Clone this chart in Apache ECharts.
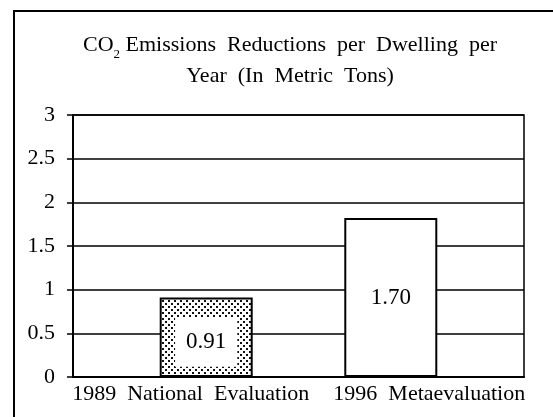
<!DOCTYPE html>
<html>
<head>
<meta charset="utf-8">
<script src="https://cdn.jsdelivr.net/npm/echarts@6/dist/echarts.min.js"></script>
<style>
  html, body { margin: 0; padding: 0; background: #fff; }
  #chart { width: 553px; height: 417px; }
</style>
</head>
<body>
<div id="chart"></div>
<script>
const categories = ['1989  National  Evaluation', '1996  Metaevaluation'];
const values = [0.91, 1.82];
const valueLabels = ['0.91', '1.70'];
const yTicks = [0, 0.5, 1, 1.5, 2, 2.5, 3];

const FONT = '"Liberation Serif", "DejaVu Serif", serif';

// dotted fill for the 1989 bar
function makePattern() {
    const c = document.createElement('canvas');
    c.width = 6; c.height = 6;
    const ctx = c.getContext('2d');
    ctx.fillStyle = '#fff';
    ctx.fillRect(0, 0, 6, 6);
    ctx.fillStyle = '#111';
    ctx.fillRect(0, 0, 2, 2);
    ctx.fillRect(3, 3, 2, 2);
    return c;
}

const chart = echarts.init(document.getElementById('chart'), null, { renderer: 'canvas' });

// one series per bar so the bars can sit off-centre like the original
const dataA = values.map((v, i) => (i === 1 ? v : '-'));
const dataB = values.map((v, i) => (i === 0 ? v : '-'));

chart.setOption({
    backgroundColor: '#fff',
    animation: false,
    title: {
        text: 'CO{sub|2} Emissions  Reductions  per  Dwelling  per\nYear  (In  Metric  Tons)',
        left: 285,
        top: 25,
        textAlign: 'center',
        textStyle: {
            fontFamily: FONT,
            fontWeight: 'normal',
            fontSize: 22,
            color: '#000',
            lineHeight: 31,
            rich: {
                sub: { fontFamily: FONT, fontSize: 13, verticalAlign: 'bottom', padding: [13, 0, 0, 0], lineHeight: 31 }
            }
        }
    },
    graphic: [{
        type: 'rect',
        shape: { x: 14, y: 11, width: 545, height: 430 },
        style: { fill: null, stroke: '#000', lineWidth: 2 },
        silent: true
    }],
    grid: {
        left: 73, right: 29, top: 115, bottom: 40,
        show: true, borderColor: '#000', borderWidth: 1.5
    },
    xAxis: {
        type: 'category',
        data: categories,
        axisTick: { show: false },
        axisLine: { lineStyle: { color: '#000', width: 2 } },
        axisLabel: {
            interval: 0,
            hideOverlap: false,
            color: '#000', fontFamily: FONT, fontSize: 22, margin: 6,
            formatter: (v, i) => (i === 0 ? '{a|' + v + '}' : '{b|' + v + '}'),
            rich: {
                a: { fontFamily: FONT, fontSize: 22, color: '#000', padding: [0, 0, 0, 10] },
                b: { fontFamily: FONT, fontSize: 22, color: '#000', padding: [0, 0, 0, 36] }
            }
        }
    },
    yAxis: {
        type: 'value',
        min: yTicks[0],
        max: yTicks[yTicks.length - 1],
        interval: 0.5,
        axisLine: { show: true, lineStyle: { color: '#000', width: 2 } },
        axisTick: { show: true, inside: false, length: 6, lineStyle: { color: '#000', width: 1.5 } },
        axisLabel: { color: '#000', fontFamily: FONT, fontSize: 22, margin: 18 },
        splitLine: { lineStyle: { color: '#000', width: 1.5 } }
    },
    series: [
        {
            type: 'bar',
            data: dataA,
            barWidth: 93,
            barGap: '-56%',
            itemStyle: { color: '#fff', borderColor: '#000', borderWidth: 2 },
            label: {
                show: true, position: 'inside',
                formatter: p => valueLabels[p.dataIndex],
                color: '#000', fontFamily: FONT, fontSize: 23
            }
        },
        {
            type: 'bar',
            data: dataB,
            barWidth: 93,
            itemStyle: {
                color: { image: makePattern(), repeat: 'repeat' },
                borderColor: '#000', borderWidth: 2
            },
            label: {
                show: true, position: 'inside',
                formatter: p => valueLabels[p.dataIndex],
                color: '#000', fontFamily: FONT, fontSize: 23,
                backgroundColor: '#fff',
                padding: [13, 11, 13, 11],
                offset: [0, 5]
            }
        }
    ]
});
</script>
</body>
</html>
